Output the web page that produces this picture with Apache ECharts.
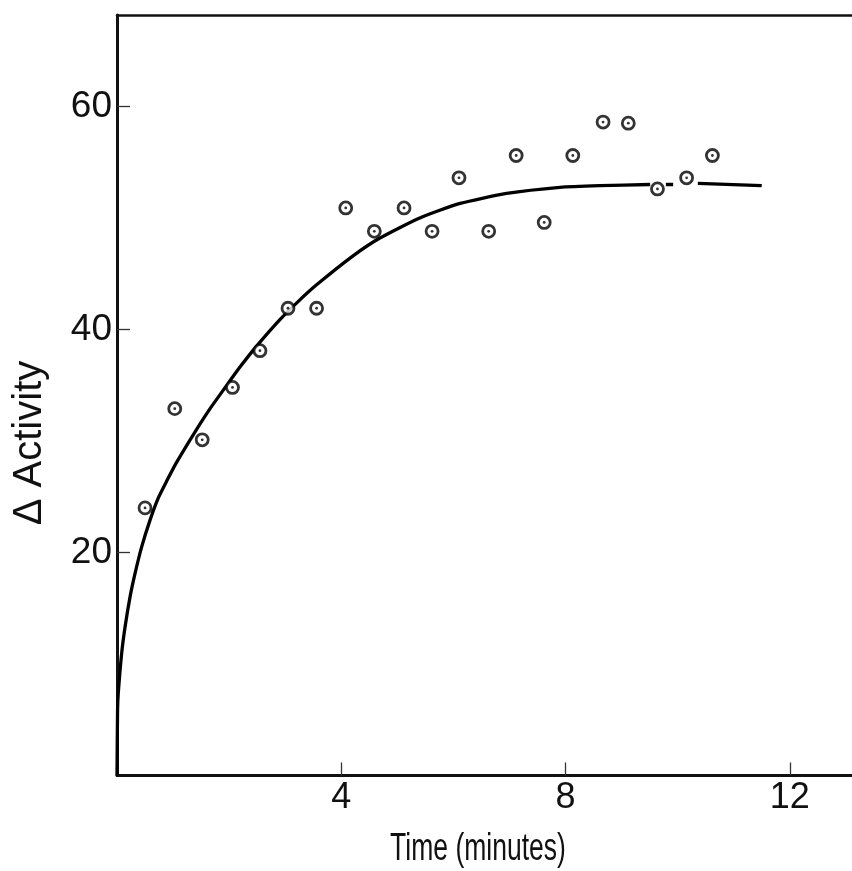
<!DOCTYPE html>
<html>
<head>
<meta charset="utf-8">
<script src="https://cdn.jsdelivr.net/npm/echarts@6/dist/echarts.min.js"></script>
<style>
html,body{margin:0;padding:0;background:#fff;}
#chart{width:852px;height:871px;}
</style>
</head>
<body>
<div id="chart"></div>
<script>
// Observed data points (time in minutes, Δ activity)
var pointTime = [0.5, 1.03, 1.52, 2.06, 2.55, 3.05, 3.56, 4.08, 4.59, 5.12, 5.62, 6.10, 6.63, 7.12, 7.62, 8.13, 8.67, 9.12, 9.64, 10.16, 10.62];
var pointActivity = [24.0, 32.9, 30.1, 34.8, 38.1, 41.9, 41.9, 50.9, 48.8, 50.9, 48.8, 53.6, 48.8, 55.6, 49.6, 55.6, 58.6, 58.5, 52.6, 53.6, 55.6];

// Fitted curve as drawn (null = break in the drawn line)
var curveTime = [0, 0.01, 0.023, 0.084, 0.143, 0.232, 0.321, 0.44, 0.589, 0.737, 0.886, 1.065, 1.39, 1.66, 1.93, 2.19, 2.49, 2.91, 3.23, 3.56, 4.21, 4.69, 5.40, 6.12, 6.95, 7.90, 8.61, 9.51, null, 9.79, 9.92, null, 10.36, 11.5];
var curveActivity = [0, 5.9, 7.4, 11.0, 13.3, 16.0, 18.1, 20.5, 22.9, 24.9, 26.4, 28.1, 30.8, 32.9, 34.8, 36.6, 38.5, 40.9, 42.5, 44.0, 46.6, 48.2, 50.0, 51.3, 52.2, 52.75, 52.9, 53.0, null, 53.0, 53.0, null, 53.1, 52.9];

var xTicks = [4, 8, 12];
var yTicks = [20, 40, 60];
var xTitle = 'Time (minutes)';
var yTitle = 'Δ Activity';

var FONT = "'Liberation Sans', Arial, sans-serif";

var pts = [];
for (var i = 0; i < pointTime.length; i++) pts.push([pointTime[i], pointActivity[i]]);
var curve = [];
for (var j = 0; j < curveTime.length; j++) {
  curve.push(curveTime[j] === null ? '-' : [curveTime[j], curveActivity[j]]);
}

var chart = echarts.init(document.getElementById('chart'), null, {renderer: 'canvas'});
chart.setOption({
  animation: false,
  backgroundColor: '#ffffff',
  grid: {left: 117, right: 0, top: 15, bottom: 95.5, containLabel: false},
  xAxis: [{
    type: 'value', min: 0, max: 13.11, interval: 4,
    axisLine: {show: true, lineStyle: {color: '#111', width: 3}},
    axisTick: {show: true, inside: true, length: 13, lineStyle: {color: '#333', width: 1.3}},
    splitLine: {show: false},
    axisLabel: {
      show: true, color: '#111', fontFamily: FONT, fontSize: 36, margin: 5,
      showMinLabel: false, showMaxLabel: false,
      formatter: function (v) { return xTicks.indexOf(v) >= 0 ? String(v) : ''; }
    }
  }, {
    type: 'value', position: 'top', min: 0, max: 13.11,
    axisLine: {show: true, lineStyle: {color: '#111', width: 2.5}},
    axisTick: {show: false}, axisLabel: {show: false}, splitLine: {show: false}
  }],
  yAxis: [{
    type: 'value', min: 0, max: 68.2, interval: 20,
    axisLine: {show: true, lineStyle: {color: '#111', width: 3}},
    axisTick: {show: true, inside: true, length: 13, lineStyle: {color: '#333', width: 1.3}},
    splitLine: {show: false},
    axisLabel: {
      show: true, color: '#111', fontFamily: FONT, fontSize: 37, margin: 5,
      showMinLabel: false, showMaxLabel: false,
      formatter: function (v) { return yTicks.indexOf(v) >= 0 ? String(v) : ''; }
    }
  }],
  graphic: [{
    type: 'text', x: 30, y: 443, rotation: Math.PI / 2,
    style: {text: yTitle, fill: '#111', font: '40px ' + FONT, textAlign: 'center', textVerticalAlign: 'middle'}
  }, {
    type: 'text', x: 478, y: 849, scaleX: 0.68,
    style: {text: xTitle, fill: '#111', font: '39px ' + FONT, textAlign: 'center', textVerticalAlign: 'middle'}
  }],
  series: [{
    type: 'line', data: curve, smooth: 0.2, showSymbol: false, symbol: 'none',
    connectNulls: false,
    lineStyle: {color: '#000', width: 3.3}, z: 2
  }, {
    type: 'scatter', data: pts, symbol: 'circle', symbolSize: 12,
    itemStyle: {color: '#ffffff', borderColor: '#000', borderWidth: 2.8}, z: 3
  }, {
    type: 'scatter', data: pts, symbol: 'circle', symbolSize: 2.8,
    itemStyle: {color: '#000'}, z: 4
  }]
});
</script>
</body>
</html>
